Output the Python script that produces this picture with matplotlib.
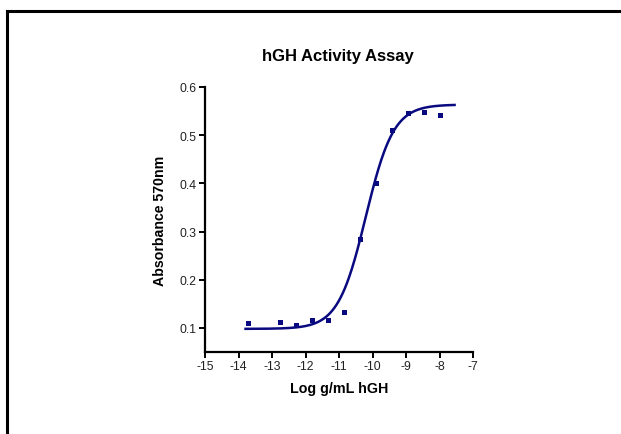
import numpy as np
import matplotlib
matplotlib.use("Agg")
import matplotlib.pyplot as plt
from matplotlib.lines import Line2D

# measured points
log_conc = [-13.726, -12.772, -12.295, -11.817, -11.34, -10.863,
            -10.386, -9.908, -9.431, -8.954, -8.477, -8.0]
absorbance = [0.110, 0.112, 0.106, 0.116, 0.116, 0.132,
              0.285, 0.400, 0.510, 0.546, 0.548, 0.542]

# 4PL fit parameters
bottom = 0.098
top = 0.5635
log_ec50 = -10.20
hill = 1.05
fit_start, fit_end = -13.79, -7.55

xticks = list(range(-15, -6))
yticks = [0.1, 0.2, 0.3, 0.4, 0.5, 0.6]

plt.rcParams['font.family'] = ['Liberation Sans', 'DejaVu Sans']
navy = '#0a0a80'

fig = plt.figure(figsize=(6.21, 4.35), dpi=100)
ax = fig.add_axes([205/621, 1-353/435, (473-205)/621, (353-88)/435])

xf = np.linspace(fit_start, fit_end, 300)
yf = bottom + (top - bottom) / (1 + 10 ** ((log_ec50 - xf) * hill))
ax.plot(xf, yf, color=navy, lw=1.8)
ax.plot(log_conc, absorbance, 's', color=navy, ms=3.6, mew=0)

ax.set_xlim(-15, -7)
ax.set_ylim(0.05, 0.6)
ax.set_xticks(xticks)
ax.set_xticklabels([str(t) for t in xticks])
ax.set_yticks(yticks)
ax.set_yticklabels([f"{t:.1f}" for t in yticks])
for s in ['top', 'right']:
    ax.spines[s].set_visible(False)
for s in ['left', 'bottom']:
    ax.spines[s].set_linewidth(1.6)
ax.tick_params(direction='out', length=4, width=1.4, labelsize=8.8, pad=2,
               labelcolor='#222222')

fig.text(338/621, 1-57/435, "hGH Activity Assay", fontsize=12, fontweight='bold',
         ha='center', va='center')
ax.set_xlabel("Log g/mL hGH", fontsize=10.3, fontweight='bold', labelpad=6)
ax.set_ylabel("Absorbance 570nm", fontsize=10.2, fontweight='bold', labelpad=9)

# outer frame (top and left edges only visible)
fig.add_artist(Line2D([7/621, 1], [1-12/435, 1-12/435], color='black', lw=2.2))
fig.add_artist(Line2D([7/621, 7/621], [0, 1-12/435], color='black', lw=2.2))

fig.savefig("out.png", dpi=100)
